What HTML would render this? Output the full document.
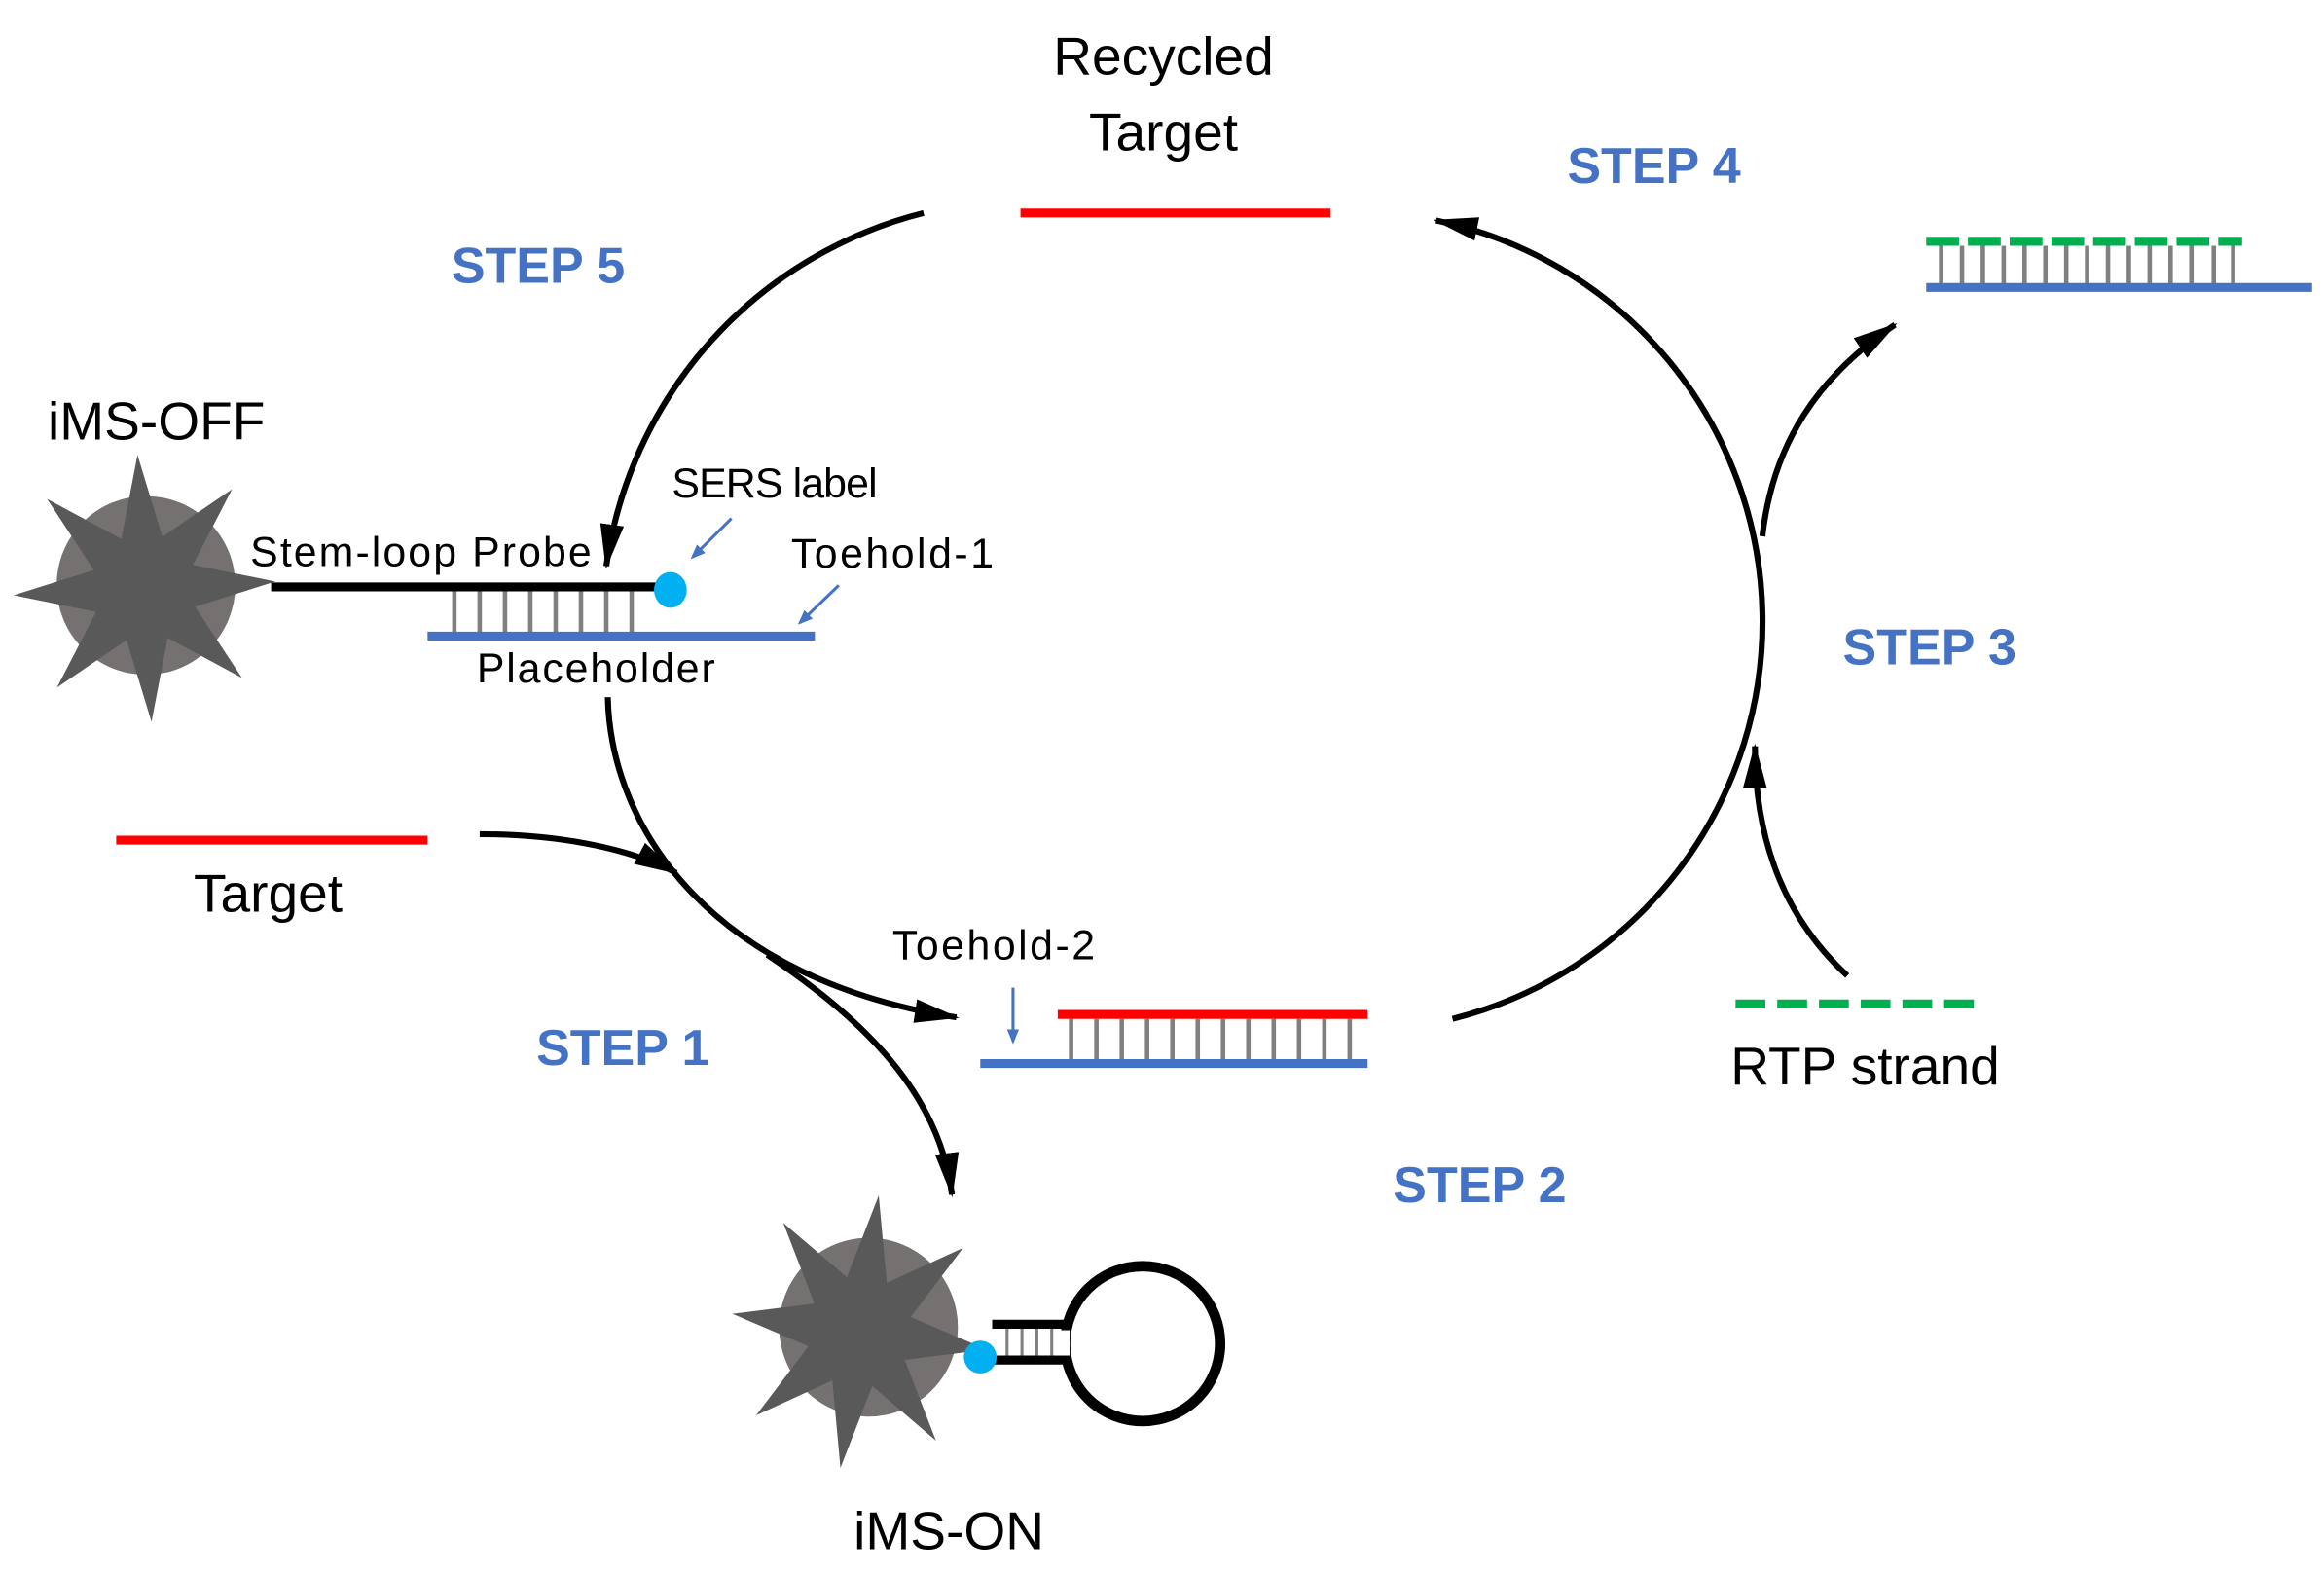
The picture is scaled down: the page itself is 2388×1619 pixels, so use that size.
<!DOCTYPE html>
<html><head><meta charset="utf-8"><style>html,body{margin:0;padding:0;background:#fff}svg{display:block}</style></head>
<body>
<svg width="2388" height="1619" viewBox="0 0 1560 1058" preserveAspectRatio="none" xmlns="http://www.w3.org/2000/svg" font-family="Liberation Sans, sans-serif">
<defs>
<marker id="ah" viewBox="0 0 30 16" refX="28" refY="8" markerWidth="30" markerHeight="16" orient="auto" markerUnits="userSpaceOnUse"><path d="M0,0 L30,8 L0,16 Z" fill="#000"/></marker>
<marker id="bh" viewBox="0 0 10 10" refX="8" refY="5" markerWidth="5" markerHeight="5" orient="auto" markerUnits="strokeWidth"><path d="M0,1 L10,5 L0,9 Z" fill="#4472c4"/></marker>
<polygon id="star" fill="#595959" points="88,0 33.3,13.8 62.2,62.2 13.8,33.3 0,88 -13.8,33.3 -62.2,62.2 -33.3,13.8 -88,0 -33.3,-13.8 -62.2,-62.2 -13.8,-33.3 0,-88 13.8,-33.3 62.2,-62.2 33.3,-13.8"/>
</defs>
<g transform="translate(-4,-2)">
<g font-size="36" fill="#000" text-anchor="middle">
<text x="785" y="52">Recycled</text>
<text x="785" y="103">Target</text>
<text x="184" y="614">Target</text>
<text x="1256" y="730">RTP strand</text>
<text x="641" y="1042">iMS-ON</text>
<text x="109" y="297">iMS-OFF</text>
</g>
<g font-size="34" font-weight="bold" fill="#4472c4">
<text x="307" y="192">STEP 5</text>
<text x="1056" y="125">STEP 4</text>
<text x="1241" y="448">STEP 3</text>
<text x="364" y="717">STEP 1</text>
<text x="939" y="809">STEP 2</text>
</g>
<g font-size="28" fill="#000">
<text x="172" y="382" textLength="229">Stem-loop Probe</text>
<text x="455" y="336" textLength="138">SERS label</text>
<text x="535" y="383" textLength="136">Toehold-1</text>
<text x="324" y="460" textLength="160">Placeholder</text>
<text x="603" y="646" textLength="136">Toehold-2</text>
</g>

<line x1="689" y1="145" x2="897" y2="145" stroke="#f00" stroke-width="6"/>
<line x1="82" y1="566" x2="291" y2="566" stroke="#f00" stroke-width="6"/>

<g fill="none" stroke="#000" stroke-width="4">
<path d="M624,145 A285,285 0 0 0 411,382" marker-end="url(#ah)"/>
<path d="M979,686 A275,275 0 0 0 968,150" marker-end="url(#ah)"/>
<path d="M412,470 C414,560 484,660 646,685" marker-end="url(#ah)"/>
<path d="M326,562 C374,562 424,570 458,588" marker-end="url(#ah)"/>
<path d="M519,643 C574,680 634,730 643,804" marker-end="url(#ah)"/>
<path d="M1244,657 C1204,620 1182,570 1182,503" marker-end="url(#ah)"/>
<path d="M1187,362 C1194,300 1224,255 1276,220" marker-end="url(#ah)"/>
</g>

<g stroke="#4472c4" stroke-width="2" fill="none">
<line x1="495" y1="350" x2="469" y2="376" marker-end="url(#bh)"/>
<line x1="567" y1="395" x2="541" y2="420" marker-end="url(#bh)"/>
<line x1="684" y1="665" x2="684" y2="701" marker-end="url(#bh)"/>
</g>

<circle cx="102" cy="395" r="60" fill="#767171"/>
<use href="#star" transform="translate(101,397) rotate(-3) scale(1,1.02)"/>
<line x1="186" y1="396" x2="449" y2="396" stroke="#000" stroke-width="6"/>
<g stroke="#808080" stroke-width="3">
<line x1="309" y1="399" x2="309" y2="427"/><line x1="326" y1="399" x2="326" y2="427"/><line x1="343" y1="399" x2="343" y2="427"/><line x1="360" y1="399" x2="360" y2="427"/><line x1="377" y1="399" x2="377" y2="427"/><line x1="394" y1="399" x2="394" y2="427"/><line x1="411" y1="399" x2="411" y2="427"/><line x1="428" y1="399" x2="428" y2="427"/>
</g>
<line x1="291" y1="429" x2="551" y2="429" stroke="#4472c4" stroke-width="6"/>
<ellipse cx="454" cy="398" rx="11" ry="12" fill="#00b0f0"/>

<line x1="714" y1="683" x2="922" y2="683" stroke="#f00" stroke-width="6"/>
<g stroke="#808080" stroke-width="3">
<line x1="723" y1="686" x2="723" y2="714"/><line x1="740" y1="686" x2="740" y2="714"/><line x1="757" y1="686" x2="757" y2="714"/><line x1="774" y1="686" x2="774" y2="714"/><line x1="791" y1="686" x2="791" y2="714"/><line x1="808" y1="686" x2="808" y2="714"/><line x1="825" y1="686" x2="825" y2="714"/><line x1="842" y1="686" x2="842" y2="714"/><line x1="859" y1="686" x2="859" y2="714"/><line x1="876" y1="686" x2="876" y2="714"/><line x1="893" y1="686" x2="893" y2="714"/><line x1="910" y1="686" x2="910" y2="714"/>
</g>
<line x1="662" y1="716" x2="922" y2="716" stroke="#4472c4" stroke-width="6"/>

<line x1="1297" y1="164" x2="1509" y2="164" stroke="#00b050" stroke-width="6" stroke-dasharray="22,6"/>
<g stroke="#808080" stroke-width="3">
<line x1="1307" y1="167" x2="1307" y2="193"/><line x1="1321" y1="167" x2="1321" y2="193"/><line x1="1335" y1="167" x2="1335" y2="193"/><line x1="1349" y1="167" x2="1349" y2="193"/><line x1="1363" y1="167" x2="1363" y2="193"/><line x1="1377" y1="167" x2="1377" y2="193"/><line x1="1391" y1="167" x2="1391" y2="193"/><line x1="1405" y1="167" x2="1405" y2="193"/><line x1="1419" y1="167" x2="1419" y2="193"/><line x1="1433" y1="167" x2="1433" y2="193"/><line x1="1447" y1="167" x2="1447" y2="193"/><line x1="1461" y1="167" x2="1461" y2="193"/><line x1="1475" y1="167" x2="1475" y2="193"/><line x1="1490" y1="167" x2="1490" y2="193"/><line x1="1503" y1="167" x2="1503" y2="193"/>
</g>
<line x1="1297" y1="195" x2="1556" y2="195" stroke="#4472c4" stroke-width="6"/>

<line x1="1169" y1="676" x2="1337" y2="676" stroke="#00b050" stroke-width="6" stroke-dasharray="20,8"/>

<circle cx="587" cy="893" r="60" fill="#767171"/>
<use href="#star" transform="translate(581,896) rotate(8) scale(0.98,1.05)"/>
<path d="M670,891 L722,891 M670,915 L722,915" stroke="#000" stroke-width="6"/>
<g stroke="#808080" stroke-width="2">
<line x1="680" y1="894" x2="680" y2="912"/><line x1="690" y1="894" x2="690" y2="912"/><line x1="700" y1="894" x2="700" y2="912"/><line x1="710" y1="894" x2="710" y2="912"/>
</g>
<circle cx="771" cy="904" r="52" fill="none" stroke="#000" stroke-width="7"/>
<rect x="712" y="895" width="10" height="17" fill="#fff"/>
<circle cx="662" cy="913" r="11" fill="#00b0f0"/>
</g>
</svg>
</body></html>
